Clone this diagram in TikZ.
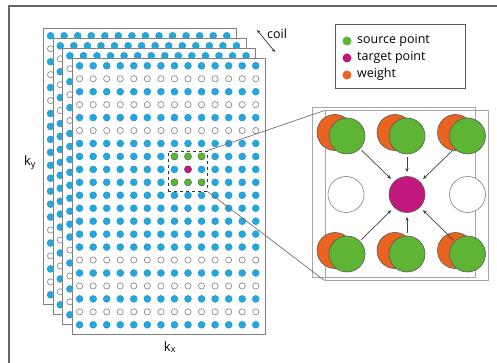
\documentclass[tikz,border=0pt]{standalone}
\usepackage{fontspec}
\setmainfont{Open Sans}
\usetikzlibrary{arrows.meta}
\definecolor{kblue}{HTML}{22A7DF}
\definecolor{kblueline}{HTML}{1A86B8}
\definecolor{kgreen}{HTML}{5DB533}
\definecolor{kmag}{HTML}{C2177C}
\definecolor{korange}{HTML}{EA6420}
\newcommand\drawsheet[2]{%
  \draw[sheetbox] (#1,#2) rectangle ++(193,276);
  \foreach \c in {0,...,13}{%
    \foreach \r in {0,2,4,6,7,8,9,10,11,12,13,14,16,18,20}{%
      \filldraw[bluedot] ({#1+7.3+13.55*\c},{#2+7.5+12.95*\r}) circle (3.5pt);}
    \foreach \r in {1,3,5,15,17,19}{%
      \filldraw[emptydot] ({#1+7.3+13.55*\c},{#2+7.5+12.95*\r}) circle (3.1pt);}
  }}
\begin{document}
\begin{tikzpicture}[x=1pt,y=-1pt,
  sheetbox/.style={draw=black!50,fill=white,line width=0.8pt},
  bluedot/.style={fill=kblue,draw=kblueline,line width=0.3pt},
  emptydot/.style={fill=white,draw=black!45,line width=0.7pt},
  smallgreen/.style={fill=kgreen,draw=kgreen!70!black,line width=0.3pt},
  smallmag/.style={fill=kmag,draw=kmag!70!black,line width=0.3pt},
  bigc/.style={circle,minimum size=36pt,inner sep=0pt,draw=black!65,line width=0.6pt},
  legdot/.style={circle,minimum size=9pt,inner sep=0pt},
  lbl/.style={font=\fontsize{12.5}{14}\selectfont,inner sep=0pt,anchor=west},
  arr/.style={draw=black!75,line width=0.7pt,-{Stealth[length=4pt,width=3.2pt]}},
  leader/.style={draw=black!55,line width=0.7pt},
  panel/.style={draw=black!35,line width=1pt,fill=none,minimum width=163pt,minimum height=169pt,inner sep=0pt}]
\useasboundingbox (0,0) rectangle (497,363);
\clip (0,0) rectangle (497,363);
% outer frame
\draw[draw=black!60,line width=1.2pt] (9,6) rectangle (510,375);
% sheets
\drawsheet{43.3}{28.3}
\drawsheet{53}{38.3}
\drawsheet{62.6}{48.3}
\drawsheet{72.3}{58.3}
% highlighted points on front sheet
\foreach \c in {7,8,9}{%
  \foreach \r in {7,9}{%
    \filldraw[smallgreen] ({72.3+7.3+13.55*\c},{58.3+7.5+12.95*\r}) circle (3.5pt);}}
\filldraw[smallmag] ({72.3+7.3+13.55*8},{58.3+7.5+12.95*8}) circle (3.5pt);
\node[draw=black!80,dashed,line width=0.6pt,minimum width=39pt,minimum height=40pt,inner sep=0pt] (zbox) at (187.5,171) {};
% axis labels
\node[font=\fontsize{13}{15}\selectfont] (ky) at (30,163) {k\textsubscript{y}};
\node[font=\fontsize{13}{15}\selectfont] (kx) at (170,347) {k\textsubscript{x}};
% coil
\coordinate (c1) at (257,30);
\coordinate (c2) at (275,52);
\draw[black!80,line width=0.7pt,{Stealth[length=3.5pt,width=3pt]}-{Stealth[length=3.5pt,width=3pt]}] (c1) -- (c2);
\node[lbl] (coil) at (267,34) {coil};
% legend
\node[draw=black!65,line width=1pt,minimum width=130pt,minimum height=64pt,inner sep=0pt] (legend) at (400,57) {};
\node[legdot,fill=kgreen] (lg) at (347,41) {};
\node[lbl] (lgt) at (357,40) {source point};
\node[legdot,fill=kmag] (lm) at (347,58) {};
\node[lbl] (lmt) at (357,57) {target point};
\node[legdot,fill=korange] (lo) at (347,75) {};
\node[lbl] (lot) at (357,74) {weight};
% panel frames
\node[panel] (outer) at (393.5,192.5) {};
\node[panel] (inner) at (406.5,195.5) {};
% leader lines
\draw[leader] (zbox.north east) -- (inner.north west);
\draw[leader] (zbox.south east) -- (inner.south west);
% big circles
\foreach \n/\x/\y in {1/347/136,2/407/136,3/467.5/136,7/347/254,8/407/254,9/467.5/254}{%
  \node[bigc,fill=korange] (o\n) at (\x-12,\y-3.5) {};
  \node[bigc,fill=kgreen] (g\n) at (\x,\y) {};}
\node[bigc,fill=white,draw=black!50] (w4) at (346,194.5) {};
\node[bigc,fill=kmag] (m) at (407,194.5) {};
\node[bigc,fill=white,draw=black!50] (w6) at (467.5,194.5) {};
% arrows
\foreach \n in {1,3,7,9}{\draw[arr,shorten <=2pt,shorten >=4pt] (g\n) -- (m);}
\draw[arr,shorten <=3pt,shorten >=4pt] (g2) -- (m);
\draw[arr,shorten <=3pt,shorten >=4pt] (g8) -- (m);
\end{tikzpicture}
\end{document}
